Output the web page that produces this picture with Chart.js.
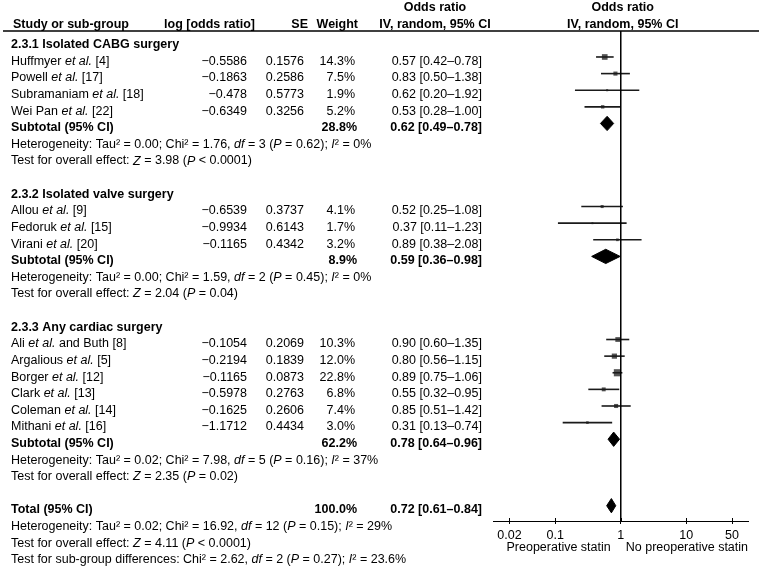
<!DOCTYPE html>
<html>
<head>
<meta charset="utf-8">
<script src="https://cdn.jsdelivr.net/npm/chart.js@4.4.0/dist/chart.umd.min.js"></script>
<style>
  html, body { margin: 0; padding: 0; background: #fff; }
</style>
</head>
<body>
<canvas id="forest" width="761" height="568"></canvas>
<script>
// ===== Data =====
const GROUP_TITLES = ['2.3.1 Isolated CABG surgery', '2.3.2 Isolated valve surgery', '2.3.3 Any cardiac surgery'];

// *...* marks italic parts
const STUDY_NAMES = [
  'Huffmyer *et al.* [4]', 'Powell *et al.* [17]', 'Subramaniam *et al.* [18]', 'Wei Pan *et al.* [22]',
  'Allou *et al.* [9]', 'Fedoruk *et al.* [15]', 'Virani *et al.* [20]',
  'Ali *et al.* and Buth [8]', 'Argalious *et al.* [5]', 'Borger *et al.* [12]', 'Clark *et al.* [13]',
  'Coleman *et al.* [14]', 'Mithani *et al.* [16]'
];
const STUDY_GROUP = [0, 0, 0, 0, 1, 1, 1, 2, 2, 2, 2, 2, 2];
const LOG_OR = [-0.5586, -0.1863, -0.478, -0.6349, -0.6539, -0.9934, -0.1165, -0.1054, -0.2194, -0.1165, -0.5978, -0.1625, -1.1712];
const SE     = [0.1576, 0.2586, 0.5773, 0.3256, 0.3737, 0.6143, 0.4342, 0.2069, 0.1839, 0.0873, 0.2763, 0.2606, 0.4434];
const WEIGHT = [14.3, 7.5, 1.9, 5.2, 4.1, 1.7, 3.2, 10.3, 12.0, 22.8, 6.8, 7.4, 3.0];
const OR     = [0.57, 0.83, 0.62, 0.53, 0.52, 0.37, 0.89, 0.90, 0.80, 0.89, 0.55, 0.85, 0.31];
const CI_LO  = [0.42, 0.50, 0.20, 0.28, 0.25, 0.11, 0.38, 0.60, 0.56, 0.75, 0.32, 0.51, 0.13];
const CI_HI  = [0.78, 1.38, 1.92, 1.00, 1.08, 1.23, 2.08, 1.35, 1.15, 1.06, 0.95, 1.42, 0.74];

const SUB_WEIGHT = [28.8, 8.9, 62.2];
const SUB_OR     = [0.62, 0.59, 0.78];
const SUB_LO     = [0.49, 0.36, 0.64];
const SUB_HI     = [0.78, 0.98, 0.96];
const SUB_HET = [
  'Heterogeneity: Tau² = 0.00; Chi² = 1.76, *df* = 3 (*P* = 0.62); *I*² = 0%',
  'Heterogeneity: Tau² = 0.00; Chi² = 1.59, *df* = 2 (*P* = 0.45); *I*² = 0%',
  'Heterogeneity: Tau² = 0.02; Chi² = 7.98, *df* = 5 (*P* = 0.16); *I*² = 37%'
];
const SUB_TEST = [
  'Test for overall effect: *Z* = 3.98 (*P* < 0.0001)',
  'Test for overall effect: *Z* = 2.04 (*P* = 0.04)',
  'Test for overall effect: *Z* = 2.35 (*P* = 0.02)'
];

const TOTAL_WEIGHT = 100.0;
const TOTAL_OR = 0.72;
const TOTAL_LO = 0.61;
const TOTAL_HI = 0.84;
const FOOTER_LINES = [
  'Heterogeneity: Tau² = 0.02; Chi² = 16.92, *df* = 12 (*P* = 0.15); *I*² = 29%',
  'Test for overall effect: *Z* = 4.11 (*P* < 0.0001)',
  'Test for sub-group differences: Chi² = 2.62, *df* = 2 (*P* = 0.27); *I*² = 23.6%'
];

const X_TICKS = [0.02, 0.1, 1, 10, 50];
const AXIS_LEFT_LABEL = 'Preoperative statin';
const AXIS_RIGHT_LABEL = 'No preoperative statin';

// ===== Look =====
const FONT = '"Liberation Sans", Arial, sans-serif';
const FONT_SIZE = 12.5;
const X_MIN = 0.01122;
const X_MAX = 87.7;
const Y_MIN = -1.763;  // row index at the header rule
const Y_MAX = 27.72;   // row index at the x axis
const TEXT_DY = 1;     // px nudge so text sits on the row
const MARK_SHIFT = 0.2;   // marks sit a little above the text line
const DIAMOND_H = 0.43;
const SQUARE_SCALE = 1.5;

// ---- Row layout built from the group structure ----
const groupRow = [], studyRow = [], subRow = [], hetRow = [], testRow = [];
let r = -1;
GROUP_TITLES.forEach((g, gi) => {
  groupRow[gi] = r++;
  STUDY_GROUP.forEach((sg, si) => { if (sg === gi) studyRow[si] = r++; });
  subRow[gi] = r++;
  hetRow[gi] = r++;
  testRow[gi] = r++;
  r++; // blank line
});
const totalRow = r;
const footerRows = FOOTER_LINES.map((_, i) => totalRow + 1 + i);

const fmtNum = v => String(v).replace('-', '\u2212');
const fmtCI = (o, lo, hi) => `${o.toFixed(2)} [${lo.toFixed(2)}\u2013${hi.toFixed(2)}]`;

// draw text with *italic* parts
function drawRich(ctx, str, x, y, align, bold) {
  const parts = str.split('*');
  const fontFor = i => `${i % 2 ? 'italic ' : ''}${bold ? 'bold ' : ''}${FONT_SIZE}px ${FONT}`;
  let total = 0;
  parts.forEach((p, i) => { ctx.font = fontFor(i); total += ctx.measureText(p).width; });
  let cx = align === 'right' ? x - total : align === 'center' ? x - total / 2 : x;
  ctx.textAlign = 'left';
  parts.forEach((p, i) => {
    ctx.font = fontFor(i);
    ctx.fillText(p, cx, y);
    cx += ctx.measureText(p).width;
  });
}

// ===== Plugin: table text, header rule, crossing ticks, axis captions =====
const forestTextPlugin = {
  id: 'forestText',
  afterDraw(chart) {
    const { ctx, chartArea, scales } = chart;
    const x = scales.x, y = scales.y;
    const py = row => y.getPixelForValue(row) + TEXT_DY;
    const COL_NAME = 11, COL_LOG = 247, COL_SE = 304, COL_W = 355, COL_CI = 482;

    ctx.save();
    ctx.fillStyle = '#000';
    ctx.textBaseline = 'middle';

    // headers
    const xOne = x.getPixelForValue(1);
    drawRich(ctx, 'Odds ratio', 435, py(-3.21), 'center', true);
    drawRich(ctx, 'IV, random, 95% CI', 435, py(-2.21), 'center', true);
    drawRich(ctx, 'Odds ratio', xOne + 2, py(-3.21), 'center', true);
    drawRich(ctx, 'IV, random, 95% CI', xOne + 2, py(-2.21), 'center', true);
    drawRich(ctx, 'Study or sub-group', 13, py(-2.21), 'left', true);
    drawRich(ctx, 'log [odds ratio]', 255, py(-2.21), 'right', true);
    drawRich(ctx, 'SE', 308, py(-2.21), 'right', true);
    drawRich(ctx, 'Weight', 358, py(-2.21), 'right', true);

    // header rule
    ctx.strokeStyle = '#000';
    ctx.lineWidth = 1.5;
    ctx.beginPath();
    ctx.moveTo(3, chartArea.top);
    ctx.lineTo(759, chartArea.top);
    ctx.stroke();

    GROUP_TITLES.forEach((g, gi) => {
      drawRich(ctx, g, COL_NAME, py(groupRow[gi]), 'left', true);
      drawRich(ctx, 'Subtotal (95% CI)', COL_NAME, py(subRow[gi]), 'left', true);
      drawRich(ctx, SUB_WEIGHT[gi].toFixed(1) + '%', COL_W + 2, py(subRow[gi]), 'right', true);
      drawRich(ctx, fmtCI(SUB_OR[gi], SUB_LO[gi], SUB_HI[gi]), COL_CI, py(subRow[gi]), 'right', true);
      drawRich(ctx, SUB_HET[gi], COL_NAME, py(hetRow[gi]), 'left', false);
      drawRich(ctx, SUB_TEST[gi], COL_NAME, py(testRow[gi]), 'left', false);
    });

    STUDY_NAMES.forEach((name, i) => {
      const yy = py(studyRow[i]);
      drawRich(ctx, name, COL_NAME, yy, 'left', false);
      drawRich(ctx, fmtNum(LOG_OR[i]), COL_LOG, yy, 'right', false);
      drawRich(ctx, String(SE[i]), COL_SE, yy, 'right', false);
      drawRich(ctx, WEIGHT[i].toFixed(1) + '%', COL_W, yy, 'right', false);
      drawRich(ctx, fmtCI(OR[i], CI_LO[i], CI_HI[i]), COL_CI, yy, 'right', false);
    });

    drawRich(ctx, 'Total (95% CI)', COL_NAME, py(totalRow), 'left', true);
    drawRich(ctx, TOTAL_WEIGHT.toFixed(1) + '%', COL_W + 2, py(totalRow), 'right', true);
    drawRich(ctx, fmtCI(TOTAL_OR, TOTAL_LO, TOTAL_HI), COL_CI, py(totalRow), 'right', true);
    FOOTER_LINES.forEach((line, i) => drawRich(ctx, line, COL_NAME, py(footerRows[i]), 'left', false));

    // tick marks also poke above the axis line
    ctx.lineWidth = 1;
    X_TICKS.forEach(v => {
      const px = Math.round(x.getPixelForValue(v)) + 0.5;
      ctx.beginPath();
      ctx.moveTo(px, chartArea.bottom - 3);
      ctx.lineTo(px, chartArea.bottom);
      ctx.stroke();
    });

    // captions under the axis
    const capY = chartArea.bottom + 27;
    drawRich(ctx, AXIS_LEFT_LABEL, xOne - 10, capY, 'right', false);
    drawRich(ctx, AXIS_RIGHT_LABEL, xOne + 5, capY, 'left', false);
    ctx.restore();
  }
};

// ===== Datasets =====
const datasets = [];

// no-effect line at OR = 1
datasets.push({
  data: [{ x: 1, y: Y_MIN }, { x: 1, y: Y_MAX }],
  showLine: true, borderColor: '#000', borderWidth: 1, pointRadius: 0
});

// study confidence intervals
STUDY_NAMES.forEach((_, i) => {
  const yy = studyRow[i] - MARK_SHIFT;
  datasets.push({
    data: [{ x: CI_LO[i], y: yy }, { x: CI_HI[i], y: yy }],
    showLine: true, borderColor: '#1a1a1a', borderWidth: 1.6, pointRadius: 0
  });
});

// study squares, area ~ weight
datasets.push({
  data: STUDY_NAMES.map((_, i) => ({ x: OR[i], y: studyRow[i] - MARK_SHIFT })),
  pointStyle: 'rect',
  pointRadius: WEIGHT.map(w => SQUARE_SCALE * Math.sqrt(w) / Math.SQRT2),
  pointBackgroundColor: '#555',
  pointBorderWidth: 0
});

// diamonds for subtotals and total
function diamond(o, lo, hi, row) {
  return {
    data: [
      { x: lo, y: row }, { x: o, y: row - DIAMOND_H }, { x: hi, y: row },
      { x: o, y: row + DIAMOND_H }, { x: lo, y: row }
    ],
    showLine: true, fill: 'shape', borderColor: '#000', backgroundColor: '#000',
    borderWidth: 1, pointRadius: 0, tension: 0
  };
}
GROUP_TITLES.forEach((_, gi) => datasets.push(diamond(SUB_OR[gi], SUB_LO[gi], SUB_HI[gi], subRow[gi] - MARK_SHIFT)));
datasets.push(diamond(TOTAL_OR, TOTAL_LO, TOTAL_HI, totalRow - MARK_SHIFT));

new Chart(document.getElementById('forest').getContext('2d'), {
  type: 'scatter',
  data: { datasets },
  options: {
    responsive: false,
    animation: false,
    devicePixelRatio: 1,
    layout: { padding: { left: 493, right: 13, top: 31, bottom: 21 } },
    plugins: {
      legend: { display: false },
      tooltip: { enabled: false }
    },
    scales: {
      x: {
        type: 'logarithmic',
        min: X_MIN,
        max: X_MAX,
        afterBuildTicks: s => { s.ticks = X_TICKS.map(v => ({ value: v })); },
        afterFit: s => { s.height = 26; },
        ticks: {
          callback: v => String(v),
          color: '#000',
          font: { family: FONT, size: FONT_SIZE },
          padding: 4,
          autoSkip: false,
          maxRotation: 0
        },
        grid: { drawOnChartArea: false, tickLength: 3, color: '#000' },
        border: { color: '#000', width: 1 }
      },
      y: { type: 'linear', min: Y_MIN, max: Y_MAX, reverse: true, display: false }
    }
  },
  plugins: [forestTextPlugin]
});
</script>
</body>
</html>
